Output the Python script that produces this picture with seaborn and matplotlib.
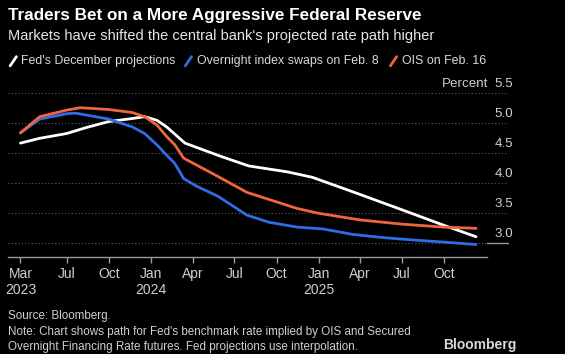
"""Fed rate path: December projections vs OIS-implied paths."""

import matplotlib.pyplot as plt
import seaborn as sns
import pandas as pd
from matplotlib.lines import Line2D

# Fed's December projections (interpolated)
fed_dates = ["2023-03-22", "2023-05-03", "2023-07-01", "2023-08-13", "2023-10-01",
             "2023-11-21", "2023-12-18", "2024-01-14", "2024-02-04", "2024-03-15",
             "2024-06-01", "2024-08-01", "2024-10-25", "2024-12-18", "2025-03-30",
             "2025-07-01", "2025-10-01", "2025-12-10"]
fed_values = [4.67, 4.75, 4.83, 4.93, 5.03, 5.08, 5.11, 5.05, 4.94, 4.67,
              4.45, 4.29, 4.19, 4.10, 3.82, 3.56, 3.30, 3.11]

# Overnight index swaps on Feb. 8
feb8_dates = ["2023-03-22", "2023-05-03", "2023-07-01", "2023-07-20", "2023-10-01",
              "2023-11-21", "2023-12-18", "2024-01-14", "2024-02-04", "2024-02-22",
              "2024-03-12", "2024-04-10", "2024-05-27", "2024-07-28", "2024-09-15",
              "2024-11-15", "2025-01-10", "2025-03-15", "2025-05-15", "2025-07-01",
              "2025-10-01", "2025-12-10"]
feb8_values = [4.84, 5.07, 5.16, 5.17, 5.07, 4.94, 4.83, 4.64, 4.47, 4.33,
               4.08, 3.95, 3.78, 3.47, 3.35, 3.27, 3.24, 3.15, 3.10, 3.07,
               3.02, 2.98]

# OIS on Feb. 16
feb16_dates = ["2023-03-22", "2023-05-03", "2023-07-01", "2023-07-31", "2023-10-01",
               "2023-11-21", "2023-12-18", "2024-01-14", "2024-02-04", "2024-02-22",
               "2024-03-12", "2024-05-27", "2024-07-28", "2024-10-01", "2024-11-15",
               "2025-01-01", "2025-04-01", "2025-07-01", "2025-10-01", "2025-12-10"]
feb16_values = [4.84, 5.11, 5.22, 5.26, 5.23, 5.18, 5.11, 4.97, 4.78, 4.64,
                4.42, 4.11, 3.85, 3.69, 3.58, 3.50, 3.39, 3.32, 3.27, 3.25]

series_names = ["Fed's December projections", "Overnight index swaps on Feb. 8", "OIS on Feb. 16"]
series_colors = ["#ffffff", "#2f6ce5", "#f0653b"]

y_ticks = [3.0, 3.5, 4.0, 4.5, 5.0, 5.5]
x_tick_dates = ["2023-03-22", "2023-07-01", "2023-10-01", "2024-01-01", "2024-04-01",
                "2024-07-01", "2024-10-01", "2025-01-01", "2025-04-01", "2025-07-01",
                "2025-10-01"]
x_tick_labels = ["Mar\n2023", "Jul", "Oct", "Jan\n2024", "Apr", "Jul", "Oct",
                 "Jan\n2025", "Apr", "Jul", "Oct"]

df = pd.concat([
    pd.DataFrame({"date": pd.to_datetime(d), "rate": v, "series": n})
    for d, v, n in zip([fed_dates, feb8_dates, feb16_dates],
                       [fed_values, feb8_values, feb16_values], series_names)
])

sns.set_style("dark", {"axes.facecolor": "black", "figure.facecolor": "black"})
plt.rcParams["font.family"] = ["Liberation Sans", "DejaVu Sans"]

fig = plt.figure(figsize=(5.65, 3.54), dpi=100)
ax = fig.add_axes([0.0142, 0.274, 0.8478, 0.4624])

sns.lineplot(data=df, x="date", y="rate", hue="series", hue_order=series_names,
             palette=series_colors, estimator=None, linewidth=2.0, legend=False, ax=ax)

ax.set_xlim(pd.Timestamp("2023-02-23"), pd.Timestamp("2026-01-03"))
ax.set_ylim(2.772, 5.5)
ax.set_xlabel("")
ax.set_ylabel("")

for s in ["top", "left", "right"]:
    ax.spines[s].set_visible(False)
ax.spines["bottom"].set_color("#9a9a9a")
ax.spines["bottom"].set_linewidth(1.0)

ax.set_yticks([])
ax.set_xticks(pd.to_datetime(x_tick_dates))
ax.set_xticklabels(x_tick_labels, linespacing=1.25)
ax.tick_params(axis="x", bottom=True, direction="out", length=4, width=1,
               color="#9a9a9a", labelcolor="#cfcfcf", labelsize=10, pad=3)

# grid lines extend beyond the axis under the labels
for v in y_ticks:
    ax.axhline(v, xmin=0, xmax=1.0 if v == 3.0 else 1.044, color="#5a5a5a",
               linestyle=(0, (1, 2)), linewidth=0.8, clip_on=False, zorder=0)
    ax.annotate(f"{v:.1f}", xy=(1.054, v), xycoords=("axes fraction", "data"),
                xytext=(0, 2.5), textcoords="offset points", ha="right", va="bottom",
                color="#cfcfcf", fontsize=9.6)
ax.axhline(3.0, xmin=1.0, xmax=1.044, color="#9a9a9a", linewidth=1.0, clip_on=False)
ax.annotate("Percent", xy=(1.003, 5.5), xycoords=("axes fraction", "data"),
            xytext=(0, 2.5), textcoords="offset points", ha="right", va="bottom",
            color="#cfcfcf", fontsize=9.6)

# titles
fig.text(0.014, 0.955, "Traders Bet on a More Aggressive Federal Reserve",
         color="white", fontsize=12.3, fontweight="bold", va="center")
fig.text(0.014, 0.898, "Markets have shifted the central bank's projected rate path higher",
         color="#e6e6e6", fontsize=10.5, va="center")

# legend
legend_x = [0.018, 0.328, 0.691]
for x0, name, c in zip(legend_x, series_names, series_colors):
    fig.add_artist(Line2D([x0, x0 + 0.011], [0.814, 0.840], color=c, linewidth=2,
                          transform=fig.transFigure))
    fig.text(x0 + 0.02, 0.827, name, color="#d9d9d9", fontsize=8.9, va="center")

# footer
fig.text(0.014, 0.108, "Source: Bloomberg.", color="#cfcfcf", fontsize=8.4, va="center")
fig.text(0.014, 0.04, "Note: Chart shows path for Fed's benchmark rate implied by OIS and Secured\n"
         "Overnight Financing Rate futures. Fed projections use interpolation.",
         color="#cfcfcf", fontsize=8.4, va="center", linespacing=1.3)
fig.text(0.915, 0.025, "Bloomberg", color="#d9d9d9", fontsize=10, fontweight="bold",
         ha="right", va="center")

fig.savefig("out.png", dpi=100, facecolor="black")
plt.close(fig)
